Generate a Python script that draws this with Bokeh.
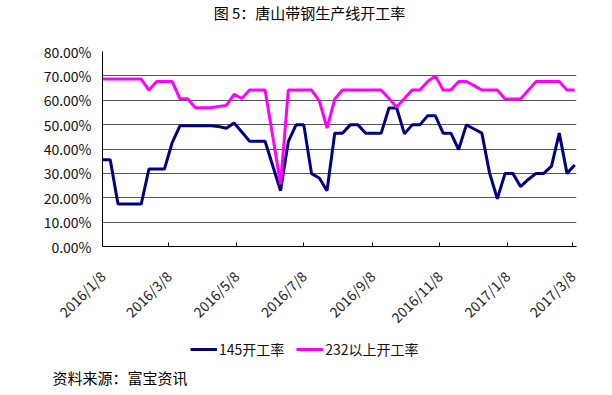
import pandas as pd
from math import pi
from bokeh.plotting import figure
from bokeh.layouts import column, row
from bokeh.models import Range1d, FixedTicker, Legend, LegendItem, Label, Spacer
from bokeh.embed import file_html
from bokeh.resources import INLINE

# ---------------- data ----------------
START_DATE = "2016-01-08"          # first weekly observation
END_DATE = "2017-03-11 14:00"      # right end of the date axis

rate_145 = [35.6, 35.6, 17.4, 17.4, 17.4, 17.4, 31.8, 31.8, 31.8, 42.6,
            49.5, 49.5, 49.5, 49.5, 49.5, 49.2, 48.5, 50.7, 47.0, 43.2,
            43.2, 43.2, 33.0, 22.9, 43.0, 49.9, 49.9, 29.9, 28.1, 22.9,
            46.5, 46.5, 49.9, 49.9, 46.5, 46.5, 46.5, 56.8, 56.8, 46.2,
            49.9, 49.9, 53.6, 53.6, 46.5, 46.5, 39.8, 49.9, 48.2, 46.5,
            30.1, 19.6, 30.0, 30.0, 24.6, 27.5, 30.0, 30.0, 33.0, 46.5,
            30.0, 33.4]

rate_232 = [68.7, 68.7, 68.7, 68.7, 68.7, 68.7, 64.2, 67.7, 67.7, 67.7,
            60.6, 60.6, 56.9, 56.9, 56.9, 57.4, 57.9, 62.4, 60.7, 64.2,
            64.2, 64.2, 45.0, 25.5, 64.2, 64.2, 64.2, 64.2, 59.8, 48.6,
            60.5, 64.2, 64.2, 64.2, 64.2, 64.2, 64.2, 60.7, 57.2, 60.7,
            64.2, 64.2, 67.7, 70.0, 64.2, 64.2, 67.7, 67.7, 66.0, 64.2,
            64.2, 64.2, 60.5, 60.5, 60.5, 64.1, 67.7, 67.7, 67.7, 67.7,
            64.2, 64.2]

series_names = ["145开工率", "232以上开工率"]
series_colors = ["#000080", "#FF00FF"]

x_tick_labels = ["2016/1/8", "2016/3/8", "2016/5/8", "2016/7/8",
                 "2016/9/8", "2016/11/8", "2017/1/8", "2017/3/8"]
y_ticks = [0, 10, 20, 30, 40, 50, 60, 70, 80]
y_tick_labels = ["0.00%", "10.00%", "20.00%", "30.00%", "40.00%",
                 "50.00%", "60.00%", "70.00%", "80.00%"]

title_text = "图 5：唐山带钢生产线开工率"
source_text = "资料来源：富宝资讯"

# ---------------- common ----------------
FONT = "Noto Sans CJK SC"
W = 612
dates = pd.date_range(START_DATE, periods=len(rate_145), freq="7D")


def to_ms(s):
    return float(pd.Timestamp(s).value // 10**6)


x_tick_ms = [to_ms(pd.to_datetime(t, format="%Y/%m/%d")) for t in x_tick_labels]


def blank_fig(h, w=W, fill=None):
    # a pixel-scaled panel (1 unit = 1 px) used for title / legend / source
    f = figure(width=w, height=h, output_backend="svg", toolbar_location=None,
               x_range=Range1d(0, w), y_range=Range1d(0, h),
               x_axis_location=None, y_axis_location=None,
               min_border_left=0, min_border_right=0,
               min_border_top=0, min_border_bottom=0)
    f.frame_align = False
    f.outline_line_color = None
    f.xgrid.visible = False
    f.ygrid.visible = False
    if fill is None:
        f.background_fill_alpha = 0
        f.border_fill_alpha = 0
    else:
        f.background_fill_color = fill
        f.border_fill_color = fill
    return f


def rule_row():
    # a 1-px black strip from x=14 to x=600
    return row(Spacer(width=14, height=1), blank_fig(1, w=586, fill="black"),
               spacing=0)


# ---------------- top: title ----------------
TOP_H = 35
top = blank_fig(TOP_H)
top.add_layout(Label(x=309, y=TOP_H - 11.5, x_units="screen", y_units="screen",
                     text=title_text, text_align="center",
                     text_baseline="middle", text_font=FONT,
                     text_font_size="15px", text_color="black"))

# ---------------- main chart ----------------
MAIN_H = 300
p = figure(width=W, height=MAIN_H, x_axis_type="datetime",
           output_backend="svg", toolbar_location=None,
           x_range=Range1d(pd.Timestamp(START_DATE), pd.Timestamp(END_DATE)),
           y_range=Range1d(0, 80),
           min_border_left=102, min_border_right=36,
           min_border_top=15, min_border_bottom=83)
p.frame_align = False
p.outline_line_color = None
p.background_fill_alpha = 0
p.border_fill_alpha = 0

p.xgrid.visible = False
p.ygrid.ticker = FixedTicker(ticks=y_ticks)
p.ygrid.grid_line_color = "#555555"
p.ygrid.grid_line_width = 1

xa = p.xaxis[0]
xa.ticker = FixedTicker(ticks=x_tick_ms)
xa.major_label_overrides = {ms: lab for ms, lab in zip(x_tick_ms, x_tick_labels)}
xa.major_label_orientation = pi / 4
xa.major_tick_in = 4
xa.major_tick_out = 0
xa.minor_tick_line_color = None
xa.axis_line_color = "black"
xa.major_tick_line_color = "black"
xa.major_label_text_font = FONT
xa.major_label_text_font_size = "14px"
xa.major_label_text_color = "#222222"
xa.major_label_standoff = 27

ya = p.yaxis[0]
ya.ticker = FixedTicker(ticks=y_ticks)
ya.major_label_overrides = {t: lab for t, lab in zip(y_ticks, y_tick_labels)}
ya.major_tick_in = 0
ya.major_tick_out = 0
ya.minor_tick_line_color = None
ya.axis_line_color = "black"
ya.major_label_text_font = FONT
ya.major_label_text_font_size = "14px"
ya.major_label_text_color = "#111111"
ya.major_label_standoff = 11

p.line(dates, rate_145, line_color=series_colors[0], line_width=3)
p.line(dates, rate_232, line_color=series_colors[1], line_width=3)

# ---------------- legend panel ----------------
LEG_H = 31
leg = blank_fig(LEG_H)
# legend-only renderers (same series; they lie outside this panel's ranges)
proxy = [leg.line(dates, vals, line_color=c, line_width=3)
         for vals, c in zip([rate_145, rate_232], series_colors)]
legend = Legend(items=[LegendItem(label=n, renderers=[r])
                       for n, r in zip(series_names, proxy)],
                orientation="horizontal", location=(190, 8),
                label_text_font=FONT, label_text_font_size="14px",
                label_text_color="#111111",
                glyph_width=27, glyph_height=16, label_height=16,
                label_standoff=2, spacing=12, padding=0, margin=0,
                border_line_color=None, background_fill_alpha=0)
leg.add_layout(legend, "center")

# ---------------- source panel ----------------
SRC_H = 27
src = blank_fig(SRC_H)
src.add_layout(Label(x=52, y=18, x_units="screen", y_units="screen",
                     text=source_text, text_align="left",
                     text_baseline="middle", text_font=FONT,
                     text_font_size="15px", text_color="black"))

layout = column(top, rule_row(), p, leg, rule_row(), src, spacing=0)
open("out.html", "w").write(file_html(layout, INLINE))
